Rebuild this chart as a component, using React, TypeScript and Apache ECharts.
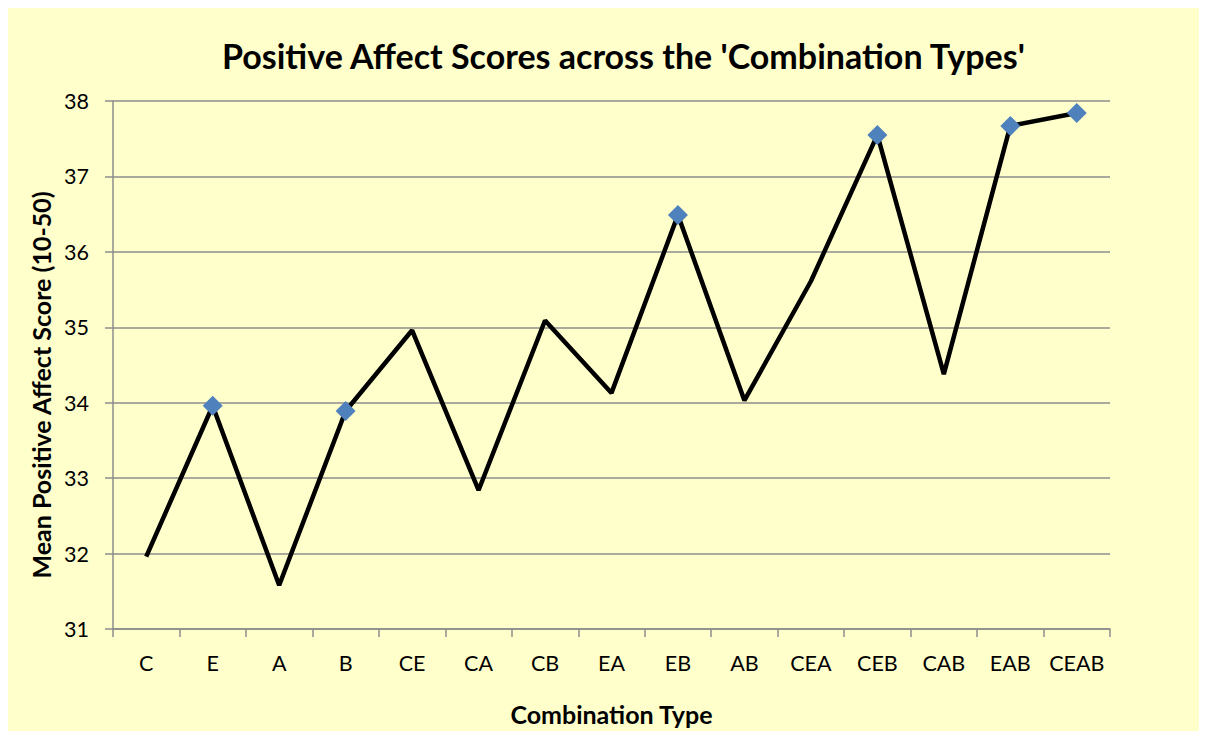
import React, { useEffect, useRef } from "react";
import * as echarts from "echarts";

const categories = ["C", "E", "A", "B", "CE", "CA", "CB", "EA", "EB", "AB", "CEA", "CEB", "CAB", "EAB", "CEAB"];
const scores = [31.96, 33.96, 31.58, 33.89, 34.96, 32.84, 35.09, 34.13, 36.49, 34.03, 35.61, 37.55, 34.38, 37.67, 37.84];
const markedCategories = ["E", "B", "EB", "CEB", "EAB", "CEAB"];
const yTicks = { min: 31, max: 38, interval: 1 };

const FONT = "Lato, 'Open Sans', sans-serif";

export default function App() {
  const ref = useRef<HTMLDivElement>(null);
  useEffect(() => {
    if (!ref.current) return;
    const chart = echarts.init(ref.current, null, { renderer: "svg" });
    const data = scores.map((v, i) => {
      const marked = markedCategories.includes(categories[i]);
      return marked ? { value: v } : { value: v, symbol: "none" };
    });
    chart.setOption({
      animation: false,
      backgroundColor: "#FFFFCC",
      textStyle: { fontFamily: FONT },
      title: {
        text: "Positive Affect Scores across the 'Combination Types'",
        left: 209,
        top: 25,
        textStyle: { fontFamily: FONT, fontSize: 34, fontWeight: "bold", color: "#000" },
      },
      grid: { left: 105, right: 97, top: 93, bottom: 98, containLabel: false },
      xAxis: {
        type: "category",
        data: categories,
        boundaryGap: true,
        name: "Combination Type",
        nameLocation: "middle",
        nameGap: 72,
        nameTextStyle: { fontFamily: FONT, fontSize: 25, fontWeight: "bold", color: "#000" },
        axisLine: { lineStyle: { color: "#8C8C8C", width: 1.5 } },
        axisTick: { show: true, length: 8, alignWithLabel: false, lineStyle: { color: "#8C8C8C", width: 1.5 } },
        axisLabel: { fontFamily: FONT, fontSize: 21.5, color: "#000", margin: 23, interval: 0 },
        splitLine: { show: false },
      },
      yAxis: {
        type: "value",
        min: yTicks.min,
        max: yTicks.max,
        interval: yTicks.interval,
        name: "Mean Positive Affect Score (10-50)",
        nameLocation: "middle",
        nameGap: 59,
        nameRotate: 90,
        nameTextStyle: { fontFamily: FONT, fontSize: 25, fontWeight: "bold", color: "#000", padding: [0, 40, 0, 0] },
        axisLine: { show: true, lineStyle: { color: "#8C8C8C", width: 1.5 } },
        axisTick: { show: true, length: 8, inside: false, lineStyle: { color: "#8C8C8C", width: 1.5 } },
        axisLabel: { fontFamily: FONT, fontSize: 21.5, color: "#000", margin: 24 },
        splitLine: { show: true, lineStyle: { color: "#8C8C8C", width: 1.5 } },
      },
      series: [
        {
          type: "line",
          data,
          symbol: "diamond",
          symbolSize: 20,
          showAllSymbol: true,
          lineStyle: { color: "#000", width: 4.5 },
          itemStyle: { color: "#4F81BD" },
          z: 3,
        },
      ],
    });
    return () => chart.dispose();
  }, []);
  return <div ref={ref} style={{ width: 1199, height: 723 }} />;
}
